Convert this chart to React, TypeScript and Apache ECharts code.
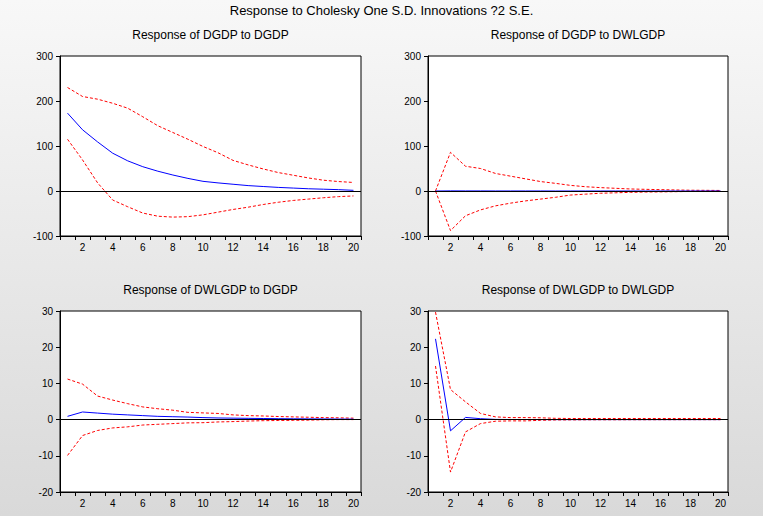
import React, { useEffect, useRef } from "react";
import * as echarts from "echarts";

const periods = ["1","2","3","4","5","6","7","8","9","10","11","12","13","14","15","16","17","18","19","20"];

const mainTitle = "Response to Cholesky One S.D. Innovations ?2 S.E.";
const panelTitles = [
  "Response of DGDP to DGDP",
  "Response of DGDP to DWLGDP",
  "Response of DWLGDP to DGDP",
  "Response of DWLGDP to DWLGDP",
];

// Panel 1: DGDP to DGDP
const p1Resp = [173, 136, 109, 84, 67, 54, 44, 35.5, 28, 21.5, 18, 15, 12, 10, 8, 6.5, 5, 4, 3, 1.5];
const p1Up = [230, 210, 204, 195, 184, 165, 145, 130, 115, 99, 85, 68, 58, 49, 41, 35, 29, 24, 21, 19];
const p1Lo = [115, 69, 18, -20, -35, -49, -56, -58, -57, -53, -47, -41, -36, -30, -25, -21, -18, -15, -12.5, -11];

// Panel 2: DGDP to DWLGDP
const p2Resp = [0, 0.3, 0.2, 0.2, 0.1, 0.1, 0.1, 0.1, 0, 0, 0, 0, 0, 0, 0, 0, 0, 0, 0, 0];
const p2Up = [0, 86, 55, 50, 39, 33, 27, 21, 17, 12.5, 9.5, 7.5, 6, 4.5, 3.7, 3, 2.3, 1.7, 1.5, 1.2];
const p2Lo = [0, -88, -55, -42, -33, -27, -22, -18, -14, -9, -7, -5, -4, -3, -2.3, -2, -1.5, -1, -0.8, -0.7];

// Panel 3: DWLGDP to DGDP
const p3Resp = [0.9, 2.1, 1.8, 1.5, 1.3, 1.1, 0.9, 0.8, 0.7, 0.55, 0.45, 0.4, 0.35, 0.3, 0.25, 0.22, 0.2, 0.18, 0.15, 0.13];
const p3Up = [11.2, 9.8, 6.5, 5.4, 4.4, 3.5, 3.0, 2.6, 2.0, 1.85, 1.7, 1.3, 1.1, 1.0, 0.85, 0.75, 0.65, 0.55, 0.5, 0.4];
const p3Lo = [-9.9, -4.4, -3.0, -2.3, -2.0, -1.5, -1.3, -1.1, -0.9, -0.85, -0.65, -0.55, -0.4, -0.3, -0.25, -0.2, -0.15, -0.05, 0, 0];

// Panel 4: DWLGDP to DWLGDP
const p4Resp = [22.3, -3.1, 0.6, 0.25, 0.05, 0.03, 0.02, 0.01, 0, 0, 0, 0, 0, 0, 0, 0, 0, 0, 0, 0];
const p4Up = [29.7, 8.3, 4.9, 1.7, 0.75, 0.55, 0.55, 0.5, 0.35, 0.3, 0.3, 0.3, 0.3, 0.3, 0.3, 0.3, 0.3, 0.3, 0.3, 0.3];
const p4Lo = [14.8, -14.5, -3.4, -1.1, -0.45, -0.35, -0.35, -0.2, -0.1, -0.08, -0.06, -0.05, -0.05, -0.04, -0.04, -0.03, -0.03, -0.02, -0.02, -0.02];

const yRanges = [
  { min: -100, max: 300, interval: 100 },
  { min: -100, max: 300, interval: 100 },
  { min: -20, max: 30, interval: 10 },
  { min: -20, max: 30, interval: 10 },
];

const panels = [
  { resp: p1Resp, up: p1Up, lo: p1Lo },
  { resp: p2Resp, up: p2Up, lo: p2Lo },
  { resp: p3Resp, up: p3Up, lo: p3Lo },
  { resp: p4Resp, up: p4Up, lo: p4Lo },
];

const gridBoxes = [
  { left: 60, top: 56, width: 301, height: 180 },
  { left: 428, top: 56, width: 300, height: 180 },
  { left: 60, top: 311, width: 301, height: 181 },
  { left: 428, top: 311, width: 300, height: 181 },
];

const FONT = "Liberation Sans, Arial, sans-serif";

export default function App() {
  const ref = useRef<HTMLDivElement>(null);
  useEffect(() => {
    document.body.style.margin = "0";
    const chart = echarts.init(ref.current!, null, { renderer: "svg" });
    const grid = gridBoxes.map((g) => ({
      ...g,
      show: true,
      backgroundColor: "#ffffff",
      borderColor: "#000000",
      borderWidth: 1,
      containLabel: false,
    }));
    const xAxis = gridBoxes.map((_, i) => ({
      type: "category",
      gridIndex: i,
      data: periods,
      boundaryGap: true,
      axisLine: { show: true, onZero: false, lineStyle: { color: "#000", width: 1 } },
      axisTick: { show: true, interval: 0, length: 4, inside: false, lineStyle: { color: "#000" } },
      axisLabel: {
        interval: (idx: number) => idx % 2 === 1,
        fontSize: 10,
        color: "#000",
        fontFamily: FONT,
        margin: 6,
      },
      splitLine: { show: false },
    }));
    const yAxis = yRanges.map((r, i) => ({
      type: "value",
      gridIndex: i,
      min: r.min,
      max: r.max,
      interval: r.interval,
      axisLine: { show: true, onZero: false, lineStyle: { color: "#000", width: 1 } },
      axisTick: { show: true, length: 4, inside: false, lineStyle: { color: "#000" } },
      axisLabel: { fontSize: 10, color: "#000", fontFamily: FONT, margin: 7 },
      splitLine: { show: false },
    }));
    const series: any[] = [];
    panels.forEach((p, i) => {
      series.push({
        type: "line",
        xAxisIndex: i,
        yAxisIndex: i,
        data: [],
        z: 1,
        silent: true,
        markLine: {
          silent: true,
          symbol: ["none", "none"],
          label: { show: false },
          lineStyle: { color: "#000", type: "solid", width: 1 },
          data: [{ yAxis: 0 }],
        },
      });
      const dash = { color: "#ff0000", width: 1, type: [3, 2] };
      series.push({
        type: "line", xAxisIndex: i, yAxisIndex: i, data: p.up, symbol: "none", z: 2,
        lineStyle: dash,
      });
      series.push({
        type: "line", xAxisIndex: i, yAxisIndex: i, data: p.lo, symbol: "none", z: 2,
        lineStyle: dash,
      });
      series.push({
        type: "line", xAxisIndex: i, yAxisIndex: i, data: p.resp, symbol: "none", z: 3,
        lineStyle: { color: "#0000ff", width: 1, type: "solid" },
      });
    });
    const graphic: any[] = [
      {
        type: "text", x: 381.5, y: 10,
        style: { text: mainTitle, fill: "#000", font: `13px ${FONT}`, align: "center", verticalAlign: "middle" },
      },
    ];
    gridBoxes.forEach((g, i) => {
      graphic.push({
        type: "text",
        x: g.left + g.width / 2,
        y: i < 2 ? 35 : 290,
        style: { text: panelTitles[i], fill: "#000", font: `12px ${FONT}`, align: "center", verticalAlign: "middle" },
      });
    });
    chart.setOption({
      animation: false,
      backgroundColor: {
        type: "linear", x: 0, y: 0, x2: 0, y2: 1,
        colorStops: [
          { offset: 0, color: "#f8f8f8" },
          { offset: 1, color: "#d9d9d9" },
        ],
      },
      grid,
      xAxis,
      yAxis,
      series,
      graphic,
    });
    return () => chart.dispose();
  }, []);
  return <div ref={ref} style={{ width: 763, height: 516 }} />;
}
